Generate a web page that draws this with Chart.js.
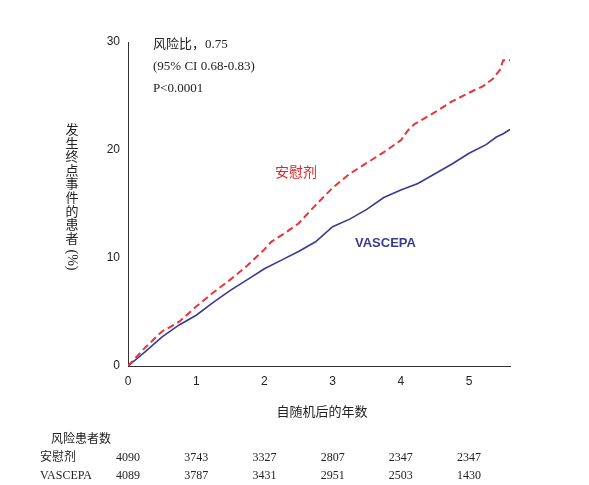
<!DOCTYPE html>
<html>
<head>
<meta charset="utf-8">
<script src="https://cdn.jsdelivr.net/npm/chart.js@4"></script>
<style>
  body { margin: 0; background: #fff; }
  #wrap { width: 589px; height: 485px; }
</style>
</head>
<body>
<div id="wrap"><canvas id="km"></canvas></div>
<script>
// years since randomisation and cumulative event rate (%)
const placeboX = [0, 0.25, 0.5, 0.75, 1, 1.25, 1.5, 1.75, 2, 2.1, 2.3, 2.5, 2.75, 3, 3.25, 3.5, 3.75, 4, 4.1, 4.2, 4.5, 4.75, 5, 5.2, 5.35, 5.45, 5.5, 5.6];
const placeboY = [0, 1.7, 3.2, 4.1, 5.5, 6.8, 8.0, 9.3, 10.8, 11.5, 12.3, 13.2, 14.9, 16.5, 17.8, 18.8, 19.8, 20.9, 21.8, 22.4, 23.5, 24.5, 25.3, 25.9, 26.6, 27.4, 28.3, 28.3];
const vascepaX = [0, 0.25, 0.5, 0.75, 1, 1.25, 1.5, 1.75, 2, 2.25, 2.5, 2.75, 3, 3.25, 3.5, 3.75, 4, 4.25, 4.5, 4.75, 5, 5.25, 5.4, 5.5, 5.6];
const vascepaY = [0, 1.3, 2.7, 3.8, 4.7, 5.9, 7.0, 8.0, 9.0, 9.8, 10.6, 11.5, 12.9, 13.6, 14.5, 15.6, 16.3, 16.9, 17.8, 18.7, 19.7, 20.5, 21.2, 21.5, 21.9];
const xTicks = [0, 1, 2, 3, 4, 5];
const yTicks = [0, 10, 20, 30];
const riskPlacebo = [4090, 3743, 3327, 2807, 2347, 2347];
const riskVascepa = [4089, 3787, 3431, 2951, 2503, 1430];

const toPts = (xs, ys) => xs.map((x, i) => ({ x: x, y: ys[i] }));
const serif = "'Liberation Serif', 'Noto Sans CJK SC', serif";

const extras = {
  id: "extras",
  afterDraw(chart) {
    const ctx = chart.ctx;
    const xs = chart.scales.x;
    ctx.save();
    ctx.fillStyle = "#222";
    ctx.font = "13px " + serif;
    ctx.textAlign = "left";
    ctx.textBaseline = "middle";
    ctx.fillText("风险比，0.75", 153, 45);
    ctx.fillText("(95% CI 0.68-0.83)", 153, 67);
    ctx.fillText("P<0.0001", 153, 89);

    ctx.font = "14px 'Noto Sans CJK SC', sans-serif";
    ctx.fillStyle = "#e0242b";
    ctx.fillText("安慰剂", 275, 172);
    ctx.font = "bold 13px 'Liberation Sans', Arial, sans-serif";
    ctx.fillStyle = "#3b3b8f";
    ctx.fillText("VASCEPA", 355, 243);

    // y title, stacked
    ctx.fillStyle = "#222";
    ctx.font = "13px 'Noto Sans CJK SC', sans-serif";
    ctx.textAlign = "center";
    "发生终点事件的患者".split("").forEach((c, i) => ctx.fillText(c, 72, 129 + i * 13.6));
    ctx.save();
    ctx.translate(72, 260);
    ctx.rotate(Math.PI / 2);
    ctx.font = "14px " + serif;
    ctx.fillText("(%)", 0, 0);
    ctx.restore();

    ctx.font = "13px 'Noto Sans CJK SC', sans-serif";
    ctx.fillText("自随机后的年数", 322, 411);

    // numbers at risk
    ctx.textAlign = "left";
    ctx.font = "12px 'Noto Sans CJK SC', sans-serif";
    ctx.fillText("风险患者数", 51, 438);
    ctx.font = "12px " + serif;
    ctx.fillText("安慰剂", 40, 458);
    ctx.fillText("VASCEPA", 40, 476);
    ctx.textAlign = "center";
    xTicks.forEach((t, i) => {
      const px = xs.getPixelForValue(t);
      ctx.fillText(String(riskPlacebo[i]), px, 458);
      ctx.fillText(String(riskVascepa[i]), px, 476);
    });
    ctx.restore();
  }
};

new Chart(document.getElementById("km"), {
  type: "line",
  data: {
    datasets: [
      { label: "安慰剂", data: toPts(placeboX, placeboY), borderColor: "#e8333a", borderWidth: 2, borderDash: [7, 4], pointRadius: 0, tension: 0 },
      { label: "VASCEPA", data: toPts(vascepaX, vascepaY), borderColor: "#3a3a92", borderWidth: 1.6, pointRadius: 0, tension: 0 }
    ]
  },
  options: {
    responsive: true,
    maintainAspectRatio: false,
    animation: false,
    layout: { padding: { left: 88, right: 79, top: 42, bottom: 89 } },
    plugins: { legend: { display: false }, tooltip: { enabled: false } },
    scales: {
      x: {
        type: "linear", min: 0, max: 5.6,
        afterBuildTicks: s => { s.ticks = xTicks.map(v => ({ value: v })); },
        afterFit: s => { s.height = 30; },
        grid: { display: false, drawTicks: true, tickLength: 5 },
        border: { color: "#333", width: 1 },
        ticks: { color: "#222", font: { size: 12, family: "'Liberation Sans', Arial" }, padding: 3 }
      },
      y: {
        min: 0, max: 30,
        afterBuildTicks: s => { s.ticks = yTicks.map(v => ({ value: v })); },
        afterFit: s => { s.width = 40; },
        grid: { display: false, drawTicks: true, tickLength: 5 },
        border: { color: "#333", width: 1 },
        ticks: { color: "#222", font: { size: 12, family: "'Liberation Sans', Arial" }, padding: 3 }
      }
    }
  },
  plugins: [extras]
});
</script>
</body>
</html>
